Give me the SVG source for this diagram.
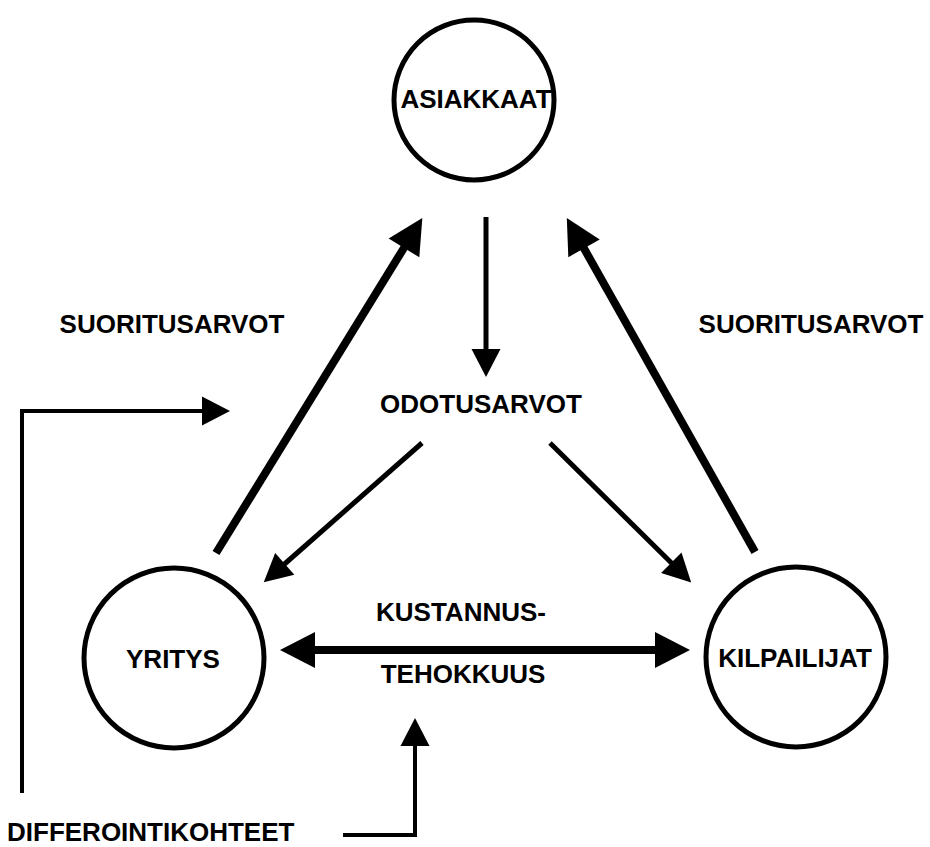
<svg xmlns="http://www.w3.org/2000/svg" width="930" height="847" viewBox="0 0 930 847">
  <style>
    .node { fill: #fff; stroke: #000; stroke-width: 5; }
    .lbl { font-family: "Liberation Sans", Arial, sans-serif; font-weight: bold; font-size: 26px; fill: #000; text-anchor: middle; }
    .bold { fill: none; stroke: #000; stroke-width: 8; }
    .thin { fill: none; stroke: #000; stroke-width: 5; }
    .wire { fill: none; stroke: #000; stroke-width: 4; }
  </style>
  <defs>
    <marker id="ah-bold" markerUnits="userSpaceOnUse" markerWidth="36" markerHeight="36" refX="1" refY="18" orient="auto-start-reverse" overflow="visible">
      <path d="M0,0 L35,18 L0,36 z" fill="#000"/>
    </marker>
    <marker id="ah-thin" markerUnits="userSpaceOnUse" markerWidth="29" markerHeight="29" refX="1" refY="14.5" orient="auto-start-reverse" overflow="visible">
      <path d="M0,0 L28,14.5 L0,29 z" fill="#000"/>
    </marker>
  </defs>

  <!-- connectors -->
  <g id="connectors">
    <!-- performance values to customers -->
    <line class="bold" x1="216" y1="553" x2="404.5" y2="247" marker-end="url(#ah-bold)"/>
    <line class="bold" x1="755" y1="552" x2="583.5" y2="247.5" marker-end="url(#ah-bold)"/>
    <!-- customers to expectations -->
    <line class="thin" x1="486" y1="217" x2="486" y2="350" marker-end="url(#ah-thin)"/>
    <!-- expectations to company / competitors -->
    <line class="thin" x1="422" y1="443" x2="284" y2="564.5" marker-end="url(#ah-thin)"/>
    <line class="thin" x1="550" y1="443" x2="672" y2="563.5" marker-end="url(#ah-thin)"/>
    <!-- cost efficiency, both ways -->
    <line class="bold" x1="314" y1="650" x2="656" y2="650" marker-start="url(#ah-bold)" marker-end="url(#ah-bold)"/>
    <!-- differentiation feeds -->
    <path class="wire" d="M22,793 V411 H203" marker-end="url(#ah-thin)"/>
    <path class="wire" d="M343,835 H415 V745" marker-end="url(#ah-thin)"/>
  </g>

  <g id="asiakkaat">
    <circle class="node" cx="474" cy="100" r="80"/>
    <text class="lbl" x="476" y="108">ASIAKKAAT</text>
  </g>
  <g id="yritys">
    <circle class="node" cx="174" cy="658" r="90"/>
    <text class="lbl" x="173" y="668">YRITYS</text>
  </g>
  <g id="kilpailijat">
    <circle class="node" cx="796" cy="657" r="90"/>
    <text class="lbl" x="795" y="667">KILPAILIJAT</text>
  </g>

  <g id="labels">
    <text class="lbl" x="481" y="413">ODOTUSARVOT</text>
    <text class="lbl" x="172" y="333">SUORITUSARVOT</text>
    <text class="lbl" x="811" y="333">SUORITUSARVOT</text>
    <text class="lbl" x="461" y="621">KUSTANNUS-</text>
    <text class="lbl" x="463" y="683">TEHOKKUUS</text>
    <text class="lbl" x="7" y="841" style="text-anchor:start">DIFFEROINTIKOHTEET</text>
  </g>
</svg>
